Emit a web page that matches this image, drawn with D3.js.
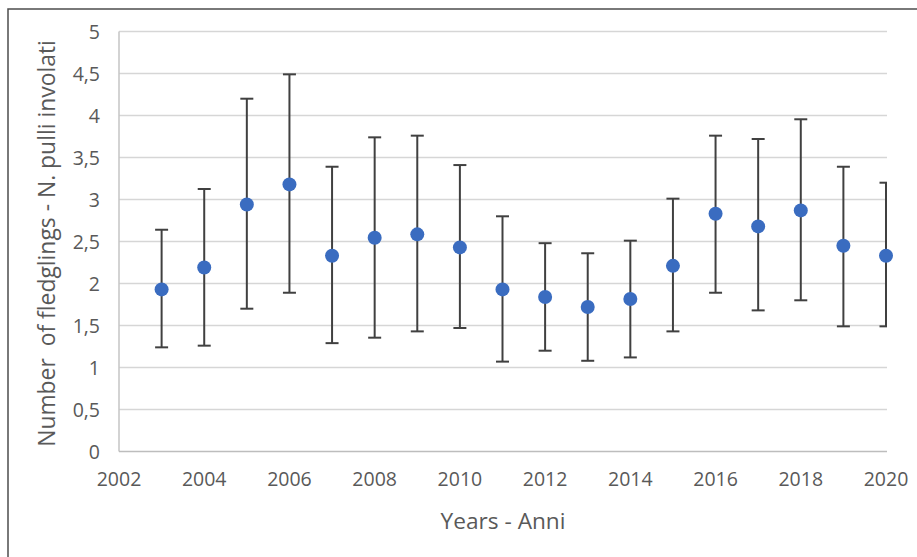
<!DOCTYPE html>
<html>
<head>
<meta charset="utf-8">
<script src="https://cdn.jsdelivr.net/npm/d3@7/dist/d3.min.js"></script>
<style>
  html, body { margin: 0; padding: 0; background: #fff; }
  svg { display: block; }
  text { font-family: "Open Sans", "Liberation Sans", sans-serif; fill: #595959; }
</style>
</head>
<body>
<svg id="chart" width="917" height="557"></svg>
<script>
// ---- data ----
const years = [2003, 2004, 2005, 2006, 2007, 2008, 2009, 2010, 2011, 2012, 2013, 2014, 2015, 2016, 2017, 2018, 2019, 2020];
const means = [1.93, 2.19, 2.94, 3.18, 2.33, 2.545, 2.585, 2.43, 1.93, 1.84, 1.72, 1.815, 2.21, 2.83, 2.68, 2.87, 2.45, 2.33];
const upper = [2.64, 3.125, 4.20, 4.49, 3.39, 3.74, 3.76, 3.41, 2.80, 2.48, 2.36, 2.51, 3.01, 3.76, 3.72, 3.955, 3.39, 3.20];
const lower = [1.24, 1.26, 1.70, 1.89, 1.29, 1.355, 1.43, 1.47, 1.07, 1.20, 1.08, 1.12, 1.43, 1.89, 1.68, 1.80, 1.49, 1.49];
const xTicks = [2002, 2004, 2006, 2008, 2010, 2012, 2014, 2016, 2018, 2020];
const yTicks = [0, 0.5, 1, 1.5, 2, 2.5, 3, 3.5, 4, 4.5, 5];
const xTitle = "Years - Anni";
const yTitle = "Number  of fledglings - N. pulli involati";

const svg = d3.select("#chart");
const W = 917, H = 557;
const L = 119, R = 886, T = 31.5, B = 451.5;

const x = d3.scaleLinear().domain([2002, 2020]).range([L, R]);
const y = d3.scaleLinear().domain([0, 5]).range([B, T]);

// outer frame (right and bottom fall outside the picture)
svg.append("rect").attr("x", 8).attr("y", 9).attr("width", W + 20).attr("height", H + 20)
  .attr("fill", "#fff").attr("stroke", "#4d4d4d").attr("stroke-width", 1.5);

// gridlines
svg.append("g").selectAll("line").data(yTicks.filter(d => d > 0)).join("line")
  .attr("x1", L).attr("x2", R + 1).attr("y1", d => y(d)).attr("y2", d => y(d))
  .attr("stroke", "#d6d6d6").attr("stroke-width", 1.5);

// axes lines
svg.append("line").attr("x1", L).attr("x2", L).attr("y1", T).attr("y2", B)
  .attr("stroke", "#c4c4c4").attr("stroke-width", 1.5);
svg.append("line").attr("x1", L).attr("x2", R + 1).attr("y1", B).attr("y2", B)
  .attr("stroke", "#bdbdbd").attr("stroke-width", 1.5);

// y tick labels
const fmt = d => String(d).replace(".", ",");
svg.append("g").selectAll("text").data(yTicks).join("text")
  .attr("x", 100).attr("y", d => y(d)).attr("dy", "0.36em")
  .attr("text-anchor", "end").style("font-size", "19.5px").text(fmt);

// x tick labels
svg.append("g").selectAll("text").data(xTicks).join("text")
  .attr("x", d => x(d)).attr("y", 479).attr("dy", "0.36em")
  .attr("text-anchor", "middle").style("font-size", "19.5px").text(d => d);

// axis titles
function fitText(sel, target) {
  const w = sel.node().getComputedTextLength();
  const fs = parseFloat(sel.style("font-size"));
  sel.style("font-size", (fs * target / w) + "px");
}
const xt = svg.append("text").attr("x", 503).attr("y", 521).attr("dy", "0.36em")
  .attr("text-anchor", "middle").style("font-size", "18px").text(xTitle);
fitText(xt, 125);
const yt = svg.append("text").attr("transform", "translate(47,243.5) rotate(-90)")
  .attr("dy", "0.36em").attr("text-anchor", "middle").style("font-size", "18px")
  .style("white-space", "pre").attr("xml:space", "preserve").text(yTitle);
fitText(yt, 407);

// clip to plot area
svg.append("clipPath").attr("id", "plotclip").append("rect")
  .attr("x", L).attr("y", 0).attr("width", R - L + 1).attr("height", H);

const data = years.map((yr, i) => ({ yr, m: means[i], hi: upper[i], lo: lower[i] }));
const g = svg.append("g").attr("clip-path", "url(#plotclip)");
const cap = 6.5;
const eb = g.append("g").attr("stroke", "#404040").attr("stroke-width", 2);
eb.selectAll("line.v").data(data).join("line").attr("class", "v")
  .attr("x1", d => x(d.yr)).attr("x2", d => x(d.yr))
  .attr("y1", d => y(d.hi)).attr("y2", d => y(d.lo));
eb.selectAll("line.t").data(data).join("line").attr("class", "t")
  .attr("x1", d => x(d.yr) - cap).attr("x2", d => x(d.yr) + cap)
  .attr("y1", d => y(d.hi)).attr("y2", d => y(d.hi));
eb.selectAll("line.b").data(data).join("line").attr("class", "b")
  .attr("x1", d => x(d.yr) - cap).attr("x2", d => x(d.yr) + cap)
  .attr("y1", d => y(d.lo)).attr("y2", d => y(d.lo));

svg.append("g").selectAll("circle").data(data).join("circle")
  .attr("cx", d => x(d.yr)).attr("cy", d => y(d.m)).attr("r", 7)
  .attr("fill", "#3a6cc0");
</script>
</body>
</html>
